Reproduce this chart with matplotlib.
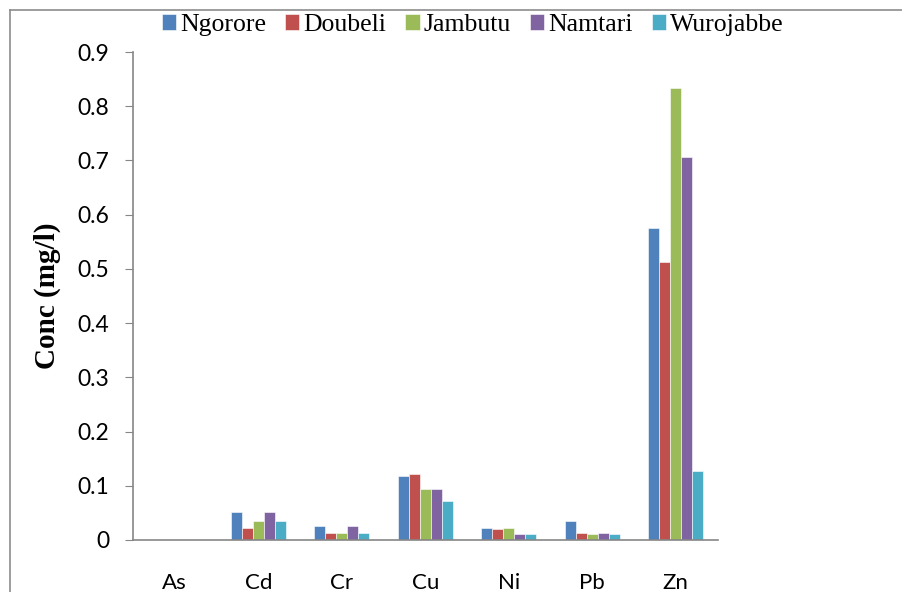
import numpy as np
import matplotlib.pyplot as plt
from matplotlib.lines import Line2D

metals = ['As', 'Cd', 'Cr', 'Cu', 'Ni', 'Pb', 'Zn']
sites = ['Ngorore', 'Doubeli', 'Jambutu', 'Namtari', 'Wurojabbe']
ngorore = [0.0, 0.052, 0.026, 0.117, 0.022, 0.035, 0.576]
doubeli = [0.0, 0.022, 0.012, 0.122, 0.021, 0.012, 0.513]
jambutu = [0.0, 0.034, 0.013, 0.094, 0.022, 0.011, 0.833]
namtari = [0.0, 0.052, 0.026, 0.094, 0.011, 0.012, 0.706]
wurojabbe = [0.0, 0.034, 0.013, 0.071, 0.011, 0.011, 0.127]
colors = ['#4F81BD', '#C0504D', '#9BBB59', '#8064A2', '#4BACC6']

fig = plt.figure(figsize=(9.02, 5.92), dpi=100)
ax = fig.add_axes([0.1475, 0.088, 0.648, 0.824])

x = np.arange(len(metals))
w = 0.132
series = [ngorore, doubeli, jambutu, namtari, wurojabbe]
for i, (name, vals) in enumerate(zip(sites, series)):
    ax.bar(x + (i - 2) * w, vals, w, color=colors[i], label=name,
           edgecolor='white', linewidth=0.4)

ax.set_xlim(-0.5, len(metals) - 0.5)
ax.set_ylim(0, 0.9)
ax.set_yticks(np.arange(0, 0.91, 0.1))
ax.set_yticklabels(['0'] + ['%.1f' % v for v in np.arange(0.1, 0.91, 0.1)])
ax.set_xticks(x)
ax.set_xticklabels(metals)

for s in ['top', 'right']:
    ax.spines[s].set_visible(False)
for s in ['left', 'bottom']:
    ax.spines[s].set_color('#868686')
    ax.spines[s].set_linewidth(1.2)
ax.tick_params(axis='y', length=6, color='#868686', pad=11, labelsize=16.5)
ax.tick_params(axis='x', length=0, pad=24, labelsize=16)
for lab in ax.get_xticklabels() + ax.get_yticklabels():
    lab.set_fontfamily('Lato')

ax.set_ylabel('Conc (mg/l)', fontfamily='Liberation Serif', fontweight='bold',
              fontsize=21, labelpad=12)

fig.legend(loc='center', bbox_to_anchor=(0.524, 0.958), ncol=5, frameon=False,
           prop={'family': 'Liberation Serif', 'size': 18.5},
           handlelength=0.55, handleheight=0.55, handletextpad=0.15,
           columnspacing=0.75, borderaxespad=0)

# outer frame (top and left edges visible)
fig.add_artist(Line2D([0.011, 1.0], [0.983, 0.983], color='#8c8c8c', lw=1.2,
                      transform=fig.transFigure))
fig.add_artist(Line2D([0.011, 0.011], [0.0, 0.983], color='#8c8c8c', lw=1.2,
                      transform=fig.transFigure))

fig.savefig('out.png', dpi=100)
